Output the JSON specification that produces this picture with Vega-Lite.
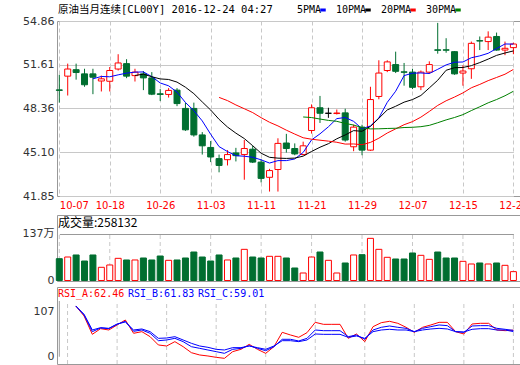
{
  "$schema": "https://vega.github.io/schema/vega-lite/v6.json",
  "padding": {"left": 0, "top": 4, "right": 0, "bottom": 0},
  "background": "white",
  "spacing": 3,
  "config": {
    "view": {"stroke": "#999", "strokeWidth": 1},
    "axis": {"labelFont": "DejaVu Sans, Noto Sans CJK SC", "labelFontSize": 11, "labelColor": "#333", "ticks": false, "domain": false, "gridColor": "#c8c8c8", "title": null}
  },
  "datasets": {
    "k": [
      {"d": "10-07", "o": 49.74, "h": 50.86, "l": 48.79, "c": 49.70, "v": 63.7},
      {"d": "10-11", "o": 50.76, "h": 51.69, "l": 49.32, "c": 51.29, "v": 68.6},
      {"d": "10-12", "o": 51.24, "h": 51.69, "l": 50.50, "c": 51.03, "v": 74.5},
      {"d": "10-13", "o": 50.93, "h": 51.31, "l": 49.97, "c": 50.12, "v": 56.9},
      {"d": "10-14", "o": 50.93, "h": 51.31, "l": 49.42, "c": 50.68, "v": 74.5},
      {"d": "10-17", "o": 50.40, "h": 50.80, "l": 49.62, "c": 50.56, "v": 38.5},
      {"d": "10-18", "o": 50.38, "h": 51.44, "l": 49.62, "c": 51.18, "v": 45.3},
      {"d": "10-19", "o": 51.29, "h": 52.39, "l": 51.18, "c": 51.74, "v": 64.7},
      {"d": "10-20", "o": 51.69, "h": 52.02, "l": 50.61, "c": 50.76, "v": 59.9},
      {"d": "10-21", "o": 50.80, "h": 51.31, "l": 50.36, "c": 51.06, "v": 59.9},
      {"d": "10-24", "o": 50.93, "h": 51.14, "l": 49.72, "c": 50.63, "v": 65.7},
      {"d": "10-25", "o": 50.63, "h": 51.06, "l": 49.35, "c": 49.42, "v": 59.9},
      {"d": "10-26", "o": 49.45, "h": 49.80, "l": 48.91, "c": 49.40, "v": 71.5},
      {"d": "10-27", "o": 49.40, "h": 49.87, "l": 49.17, "c": 49.70, "v": 58.9},
      {"d": "10-28", "o": 49.72, "h": 49.87, "l": 48.53, "c": 48.72, "v": 59.9},
      {"d": "10-31", "o": 48.36, "h": 48.79, "l": 46.69, "c": 46.77, "v": 65.7},
      {"d": "11-01", "o": 48.36, "h": 48.79, "l": 46.26, "c": 46.39, "v": 83.2},
      {"d": "11-02", "o": 46.39, "h": 46.60, "l": 44.93, "c": 45.58, "v": 68.6},
      {"d": "11-03", "o": 45.46, "h": 45.94, "l": 44.37, "c": 44.75, "v": 56.9},
      {"d": "11-04", "o": 44.63, "h": 44.93, "l": 43.61, "c": 44.12, "v": 74.5},
      {"d": "11-07", "o": 44.55, "h": 45.26, "l": 44.12, "c": 44.93, "v": 59.9},
      {"d": "11-08", "o": 45.05, "h": 45.43, "l": 44.42, "c": 44.85, "v": 65.7},
      {"d": "11-09", "o": 44.93, "h": 46.01, "l": 43.06, "c": 45.38, "v": 91.0},
      {"d": "11-10", "o": 45.33, "h": 45.58, "l": 44.30, "c": 44.37, "v": 68.6},
      {"d": "11-11", "o": 44.37, "h": 44.58, "l": 42.86, "c": 43.16, "v": 65.7},
      {"d": "11-14", "o": 43.24, "h": 43.87, "l": 42.18, "c": 43.74, "v": 70.6},
      {"d": "11-15", "o": 43.82, "h": 46.14, "l": 42.18, "c": 45.76, "v": 70.6},
      {"d": "11-16", "o": 45.79, "h": 46.47, "l": 45.08, "c": 45.38, "v": 65.7},
      {"d": "11-17", "o": 45.38, "h": 45.76, "l": 44.88, "c": 44.98, "v": 36.5},
      {"d": "11-18", "o": 44.93, "h": 45.89, "l": 44.88, "c": 45.58, "v": 21.9},
      {"d": "11-21", "o": 46.72, "h": 48.66, "l": 46.49, "c": 48.41, "v": 68.6},
      {"d": "11-22", "o": 48.41, "h": 49.29, "l": 47.28, "c": 48.00, "v": 83.2},
      {"d": "11-23", "o": 48.00, "h": 48.41, "l": 47.66, "c": 48.00, "v": 58.9},
      {"d": "11-24", "o": 47.98, "h": 48.28, "l": 47.91, "c": 48.02, "v": 21.9},
      {"d": "11-25", "o": 48.03, "h": 48.34, "l": 45.89, "c": 46.01, "v": 51.1},
      {"d": "11-28", "o": 45.51, "h": 47.15, "l": 45.18, "c": 46.97, "v": 74.5},
      {"d": "11-29", "o": 46.97, "h": 47.15, "l": 44.88, "c": 45.26, "v": 75.4},
      {"d": "11-30", "o": 45.26, "h": 49.97, "l": 45.20, "c": 49.02, "v": 123.1},
      {"d": "12-01", "o": 49.25, "h": 51.94, "l": 49.04, "c": 50.99, "v": 91.0},
      {"d": "12-02", "o": 51.18, "h": 51.94, "l": 51.06, "c": 51.82, "v": 67.7},
      {"d": "12-05", "o": 51.62, "h": 52.58, "l": 50.99, "c": 51.12, "v": 62.8},
      {"d": "12-06", "o": 51.08, "h": 51.74, "l": 50.05, "c": 51.05, "v": 62.8},
      {"d": "12-07", "o": 51.06, "h": 51.31, "l": 49.80, "c": 49.93, "v": 80.3},
      {"d": "12-08", "o": 49.97, "h": 51.18, "l": 49.72, "c": 51.06, "v": 73.5},
      {"d": "12-09", "o": 51.06, "h": 51.86, "l": 50.93, "c": 51.62, "v": 61.8},
      {"d": "12-12", "o": 52.72, "h": 54.72, "l": 52.43, "c": 52.68, "v": 83.2},
      {"d": "12-13", "o": 52.72, "h": 53.58, "l": 52.50, "c": 52.69, "v": 65.7},
      {"d": "12-14", "o": 52.58, "h": 52.62, "l": 50.86, "c": 50.93, "v": 65.7},
      {"d": "12-15", "o": 50.99, "h": 51.56, "l": 50.05, "c": 51.14, "v": 56.0},
      {"d": "12-16", "o": 51.31, "h": 53.33, "l": 50.56, "c": 53.20, "v": 48.2},
      {"d": "12-19", "o": 53.40, "h": 53.71, "l": 52.70, "c": 53.37, "v": 51.1},
      {"d": "12-20", "o": 53.33, "h": 54.09, "l": 52.70, "c": 53.66, "v": 48.2},
      {"d": "12-21", "o": 53.71, "h": 54.00, "l": 52.65, "c": 52.70, "v": 51.1},
      {"d": "12-22", "o": 52.70, "h": 53.33, "l": 52.32, "c": 52.83, "v": 44.3},
      {"d": "12-23", "o": 52.88, "h": 53.25, "l": 52.39, "c": 53.15, "v": 25.8}
    ],
    "rsi": [
      {"d": "10-11", "RSI_A": 119.2, "RSI_B": 119.2, "RSI_C": 119.2},
      {"d": "10-12", "RSI_A": 95.7, "RSI_B": 98.1, "RSI_C": 99.6},
      {"d": "10-13", "RSI_A": 52.6, "RSI_B": 58.9, "RSI_C": 62.8},
      {"d": "10-14", "RSI_A": 65.9, "RSI_B": 67.5, "RSI_C": 68.3},
      {"d": "10-17", "RSI_A": 62.8, "RSI_B": 65.9, "RSI_C": 66.7},
      {"d": "10-18", "RSI_A": 74.6, "RSI_B": 76.1, "RSI_C": 76.9},
      {"d": "10-19", "RSI_A": 86.3, "RSI_B": 83.2, "RSI_C": 81.6},
      {"d": "10-20", "RSI_A": 55.0, "RSI_B": 59.7, "RSI_C": 62.8},
      {"d": "10-21", "RSI_A": 58.9, "RSI_B": 62.8, "RSI_C": 65.2},
      {"d": "10-24", "RSI_A": 47.1, "RSI_B": 55.0, "RSI_C": 58.9},
      {"d": "10-25", "RSI_A": 27.6, "RSI_B": 37.7, "RSI_C": 43.2},
      {"d": "10-26", "RSI_A": 25.2, "RSI_B": 39.3, "RSI_C": 44.0},
      {"d": "10-27", "RSI_A": 35.4, "RSI_B": 43.2, "RSI_C": 47.1},
      {"d": "10-28", "RSI_A": 23.6, "RSI_B": 35.4, "RSI_C": 39.3},
      {"d": "10-31", "RSI_A": 9.5, "RSI_B": 23.6, "RSI_C": 31.5},
      {"d": "11-01", "RSI_A": 4.1, "RSI_B": 19.7, "RSI_C": 25.2},
      {"d": "11-02", "RSI_A": 1.7, "RSI_B": 15.8, "RSI_C": 22.1},
      {"d": "11-03", "RSI_A": -1.4, "RSI_B": 11.9, "RSI_C": 17.4},
      {"d": "11-04", "RSI_A": -3.8, "RSI_B": 8.0, "RSI_C": 15.8},
      {"d": "11-07", "RSI_A": 11.9, "RSI_B": 17.4, "RSI_C": 21.3},
      {"d": "11-08", "RSI_A": 17.4, "RSI_B": 19.7, "RSI_C": 21.3},
      {"d": "11-09", "RSI_A": 29.1, "RSI_B": 26.0, "RSI_C": 25.2},
      {"d": "11-10", "RSI_A": 17.4, "RSI_B": 19.7, "RSI_C": 21.3},
      {"d": "11-11", "RSI_A": 8.0, "RSI_B": 14.2, "RSI_C": 17.4},
      {"d": "11-14", "RSI_A": 23.6, "RSI_B": 23.6, "RSI_C": 25.2},
      {"d": "11-15", "RSI_A": 57.3, "RSI_B": 40.9, "RSI_C": 37.7},
      {"d": "11-16", "RSI_A": 51.1, "RSI_B": 40.9, "RSI_C": 37.7},
      {"d": "11-17", "RSI_A": 45.6, "RSI_B": 37.0, "RSI_C": 35.4},
      {"d": "11-18", "RSI_A": 56.5, "RSI_B": 43.2, "RSI_C": 39.3},
      {"d": "11-21", "RSI_A": 80.8, "RSI_B": 62.8, "RSI_C": 53.4},
      {"d": "11-22", "RSI_A": 76.1, "RSI_B": 61.2, "RSI_C": 52.6},
      {"d": "11-23", "RSI_A": 76.1, "RSI_B": 61.2, "RSI_C": 52.6},
      {"d": "11-24", "RSI_A": 76.1, "RSI_B": 61.2, "RSI_C": 52.6},
      {"d": "11-25", "RSI_A": 43.2, "RSI_B": 47.1, "RSI_C": 45.6},
      {"d": "11-28", "RSI_A": 53.4, "RSI_B": 51.1, "RSI_C": 48.7},
      {"d": "11-29", "RSI_A": 35.4, "RSI_B": 40.9, "RSI_C": 43.2},
      {"d": "11-30", "RSI_A": 70.6, "RSI_B": 62.8, "RSI_C": 58.9},
      {"d": "12-01", "RSI_A": 80.0, "RSI_B": 69.1, "RSI_C": 62.8},
      {"d": "12-02", "RSI_A": 83.2, "RSI_B": 72.2, "RSI_C": 64.4},
      {"d": "12-05", "RSI_A": 78.5, "RSI_B": 69.1, "RSI_C": 62.8},
      {"d": "12-06", "RSI_A": 69.1, "RSI_B": 66.7, "RSI_C": 62.8},
      {"d": "12-07", "RSI_A": 57.3, "RSI_B": 58.9, "RSI_C": 58.9},
      {"d": "12-08", "RSI_A": 69.1, "RSI_B": 66.7, "RSI_C": 62.8},
      {"d": "12-09", "RSI_A": 74.6, "RSI_B": 70.6, "RSI_C": 65.2},
      {"d": "12-12", "RSI_A": 80.8, "RSI_B": 74.6, "RSI_C": 66.7},
      {"d": "12-13", "RSI_A": 80.8, "RSI_B": 73.0, "RSI_C": 65.2},
      {"d": "12-14", "RSI_A": 58.9, "RSI_B": 58.9, "RSI_C": 58.9},
      {"d": "12-15", "RSI_A": 53.4, "RSI_B": 57.3, "RSI_C": 58.1},
      {"d": "12-16", "RSI_A": 76.9, "RSI_B": 72.2, "RSI_C": 64.4},
      {"d": "12-19", "RSI_A": 78.5, "RSI_B": 73.0, "RSI_C": 65.9},
      {"d": "12-20", "RSI_A": 78.5, "RSI_B": 73.0, "RSI_C": 65.9},
      {"d": "12-21", "RSI_A": 62.8, "RSI_B": 66.7, "RSI_C": 62.8},
      {"d": "12-22", "RSI_A": 61.2, "RSI_B": 64.4, "RSI_C": 62.8},
      {"d": "12-23", "RSI_A": 62.46, "RSI_B": 61.83, "RSI_C": 59.01}
    ]
  },
  "resolve": {"scale": {"color": "independent"}, "legend": {"color": "independent"}},
  "vconcat": [
    {
      "width": 463,
      "height": 175,
      "title": {"text": "原油当月连续[CL00Y] 2016-12-24 04:27", "anchor": "start", "frame": "group", "font": "DejaVu Sans Mono, Noto Sans CJK SC", "fontSize": 10.5, "fontWeight": "normal", "color": "#000", "offset": -10, "dx": 1},
      "data": {"name": "k"},
      "encoding": {
        "x": {"field": "d", "type": "ordinal", "scale": {"type": "point", "range": [2.3, 456.4], "padding": 0},
          "axis": {"values": ["10-07", "10-18", "10-26", "11-03", "11-11", "11-21", "11-29", "12-07", "12-15", "12-23"], "labelAngle": 0, "labelColor": "#ff0000", "labelFontSize": 10, "labelPadding": 4, "grid": true, "gridDash": [4, 3], "labelAlign": {"condition": {"test": "datum.value == '10-07'", "value": "left"}, "value": "center"}}}
      },
      "layer": [
        {
          "mark": {"type": "rule", "strokeWidth": 1},
          "encoding": {
            "y": {"field": "l", "type": "quantitative", "scale": {"domain": [41.85, 54.86], "nice": false, "zero": false},
              "axis": {"values": [41.85, 43.47, 45.10, 46.73, 48.36, 49.98, 51.61, 53.24, 54.86], "format": ".2f", "labelPadding": 3, "minExtent": 56, "maxExtent": 56, "grid": true}},
            "y2": {"field": "h"},
            "color": {"condition": [{"test": "datum.c > datum.o", "value": "#ff0000"}, {"test": "datum.c < datum.o", "value": "#006e30"}], "value": "#000000"}
          }
        },
        {
          "mark": {"type": "bar", "size": 6, "strokeWidth": 1},
          "encoding": {
            "y": {"field": "o", "type": "quantitative"},
            "y2": {"field": "c"},
            "fill": {"condition": {"test": "datum.c < datum.o", "value": "#006e30"}, "value": "#ffffff"},
            "stroke": {"condition": [{"test": "datum.c > datum.o", "value": "#ff0000"}, {"test": "datum.c < datum.o", "value": "#006e30"}], "value": "#000000"}
          }
        },
        {
          "transform": [{"window": [{"op": "mean", "field": "c", "as": "ma"}, {"op": "count", "as": "n"}], "frame": [-4, 0], "sort": [{"field": "d"}]}, {"filter": "datum.n >= 5"}],
          "mark": {"type": "line", "strokeWidth": 1},
          "encoding": {
            "y": {"field": "ma", "type": "quantitative"},
            "color": {"datum": "5PMA", "type": "nominal", "scale": {"domain": ["5PMA", "10PMA", "20PMA", "30PMA"], "range": ["#0000ff", "#000000", "#ff0000", "#008000"]},
              "legend": {"orient": "none", "legendX": 261, "legendY": -16, "direction": "horizontal", "title": null, "symbolType": "stroke", "symbolStrokeWidth": 3, "symbolSize": 30, "labelFont": "DejaVu Sans Mono", "labelFontSize": 10, "labelColor": "#000", "columnPadding": 3, "labelAlign": "right", "labelOffset": -7, "padding": 0}}
          }
        },
        {
          "transform": [{"window": [{"op": "mean", "field": "c", "as": "ma"}, {"op": "count", "as": "n"}], "frame": [-9, 0], "sort": [{"field": "d"}]}, {"filter": "datum.n >= 10"}],
          "mark": {"type": "line", "strokeWidth": 1},
          "encoding": {"y": {"field": "ma", "type": "quantitative"}, "color": {"datum": "10PMA", "type": "nominal"}}
        },
        {
          "transform": [{"window": [{"op": "mean", "field": "c", "as": "ma"}, {"op": "count", "as": "n"}], "frame": [-19, 0], "sort": [{"field": "d"}]}, {"filter": "datum.n >= 20"}],
          "mark": {"type": "line", "strokeWidth": 1},
          "encoding": {"y": {"field": "ma", "type": "quantitative"}, "color": {"datum": "20PMA", "type": "nominal"}}
        },
        {
          "transform": [{"window": [{"op": "mean", "field": "c", "as": "ma"}, {"op": "count", "as": "n"}], "frame": [-29, 0], "sort": [{"field": "d"}]}, {"filter": "datum.n >= 30"}],
          "mark": {"type": "line", "strokeWidth": 1},
          "encoding": {"y": {"field": "ma", "type": "quantitative"}, "color": {"datum": "30PMA", "type": "nominal"}}
        }
      ]
    },
    {
      "spacing": 0,
      "resolve": {"scale": {"color": "independent"}, "legend": {"color": "independent"}},
      "vconcat": [
        {
          "width": 463,
          "height": 66,
          "title": {"text": "成交量:258132", "anchor": "start", "frame": "group", "font": "Noto Sans CJK SC", "fontSize": 12, "fontWeight": "normal", "color": "#000", "offset": -15, "dx": 1},
          "data": {"name": "k"},
          "encoding": {
            "x": {"field": "d", "type": "ordinal", "scale": {"type": "point", "range": [2.3, 456.4], "padding": 0}, "axis": null}
          },
          "layer": [
            {
              "transform": [{"window": [{"op": "row_number", "as": "rn"}], "sort": [{"field": "d"}]}, {"filter": "(datum.rn - 1) % 6 == 0"}],
              "mark": {"type": "rule", "strokeDash": [4, 3], "color": "#c8c8c8"},
              "encoding": {
                "y": {"datum": -1.5, "type": "quantitative", "scale": {"domain": [-1.5, 191.3], "nice": false, "zero": false},
                  "axis": {"values": [0, 24.6, 62.2, 99.8, 137], "format": ".4~r", "labelExpr": "datum.value == 0 ? '0' : datum.label + '万'", "labelPadding": 3, "minExtent": 56, "maxExtent": 56, "grid": true,
                    "gridColor": {"condition": {"test": "datum.value == 137", "value": "#999999"}, "value": "#c8c8c8"},
                    "gridOpacity": {"condition": {"test": "datum.value == 0", "value": 0}, "value": 1}}},
                "y2": {"datum": 137}
              }
            },
            {
              "mark": {"type": "bar", "size": 6, "strokeWidth": 1},
              "encoding": {
                "y": {"field": "v", "type": "quantitative"},
                "fill": {"condition": {"test": "datum.c < datum.o", "value": "#006e30"}, "value": "#ffffff"},
                "stroke": {"condition": {"test": "datum.c < datum.o", "value": "#006e30"}, "value": "#ff0000"}
              }
            }
          ]
        },
        {
          "width": 463,
          "height": 77,
          "encoding": {
            "x": {"field": "d", "type": "ordinal", "scale": {"type": "point", "range": [2.3, 456.4], "padding": 0}, "axis": null}
          },
          "layer": [
            {
              "data": {"name": "k"},
              "transform": [{"window": [{"op": "row_number", "as": "rn"}], "sort": [{"field": "d"}]}, {"filter": "(datum.rn - 1) % 6 == 0"}],
              "mark": {"type": "rule", "strokeDash": [4, 3], "color": "#c8c8c8"},
              "encoding": {
                "y": {"datum": -17.1, "type": "quantitative", "scale": {"domain": [-17.1, 163.8], "nice": false, "zero": false},
                  "axis": {"values": [0, 55, 107], "format": "d", "labelPadding": 3, "minExtent": 56, "maxExtent": 56, "grid": true,
                    "gridOpacity": {"condition": {"test": "datum.value == 55", "value": 1}, "value": 0}}},
                "y2": {"datum": 130.9}
              }
            },
            {
              "data": {"values": [{}]},
              "mark": {"type": "rule", "color": "#999999"},
              "encoding": {"y": {"datum": 130.9, "type": "quantitative"}}
            },
            {
              "data": {"name": "rsi"},
              "transform": [{"fold": ["RSI_A", "RSI_B", "RSI_C"], "as": ["k", "val"]}],
              "mark": {"type": "line", "strokeWidth": 1},
              "encoding": {
                "y": {"field": "val", "type": "quantitative"},
                "color": {"field": "k", "type": "nominal", "scale": {"domain": ["RSI_A", "RSI_B", "RSI_C"], "range": ["#ff0000", "#0000ff", "#0000ff"]},
                  "legend": {"orient": "none", "legendX": 0, "legendY": 2, "direction": "horizontal", "title": null, "symbolType": "circle", "symbolSize": 1, "symbolStrokeWidth": 0, "symbolOpacity": 0, "labelOffset": -9, "labelFont": "DejaVu Sans Mono", "labelFontSize": 10, "columnPadding": 2, "padding": 0,
                    "labelExpr": "datum.label == 'RSI_A' ? 'RSI_A:62.46' : datum.label == 'RSI_B' ? 'RSI_B:61.83' : 'RSI_C:59.01'",
                    "encode": {"labels": {"update": {"fill": {"signal": "datum.value == 'RSI_A' ? '#ff0000' : '#0000ff'"}}}}}}
              }
            }
          ]
        }
      ]
    }
  ]
}
